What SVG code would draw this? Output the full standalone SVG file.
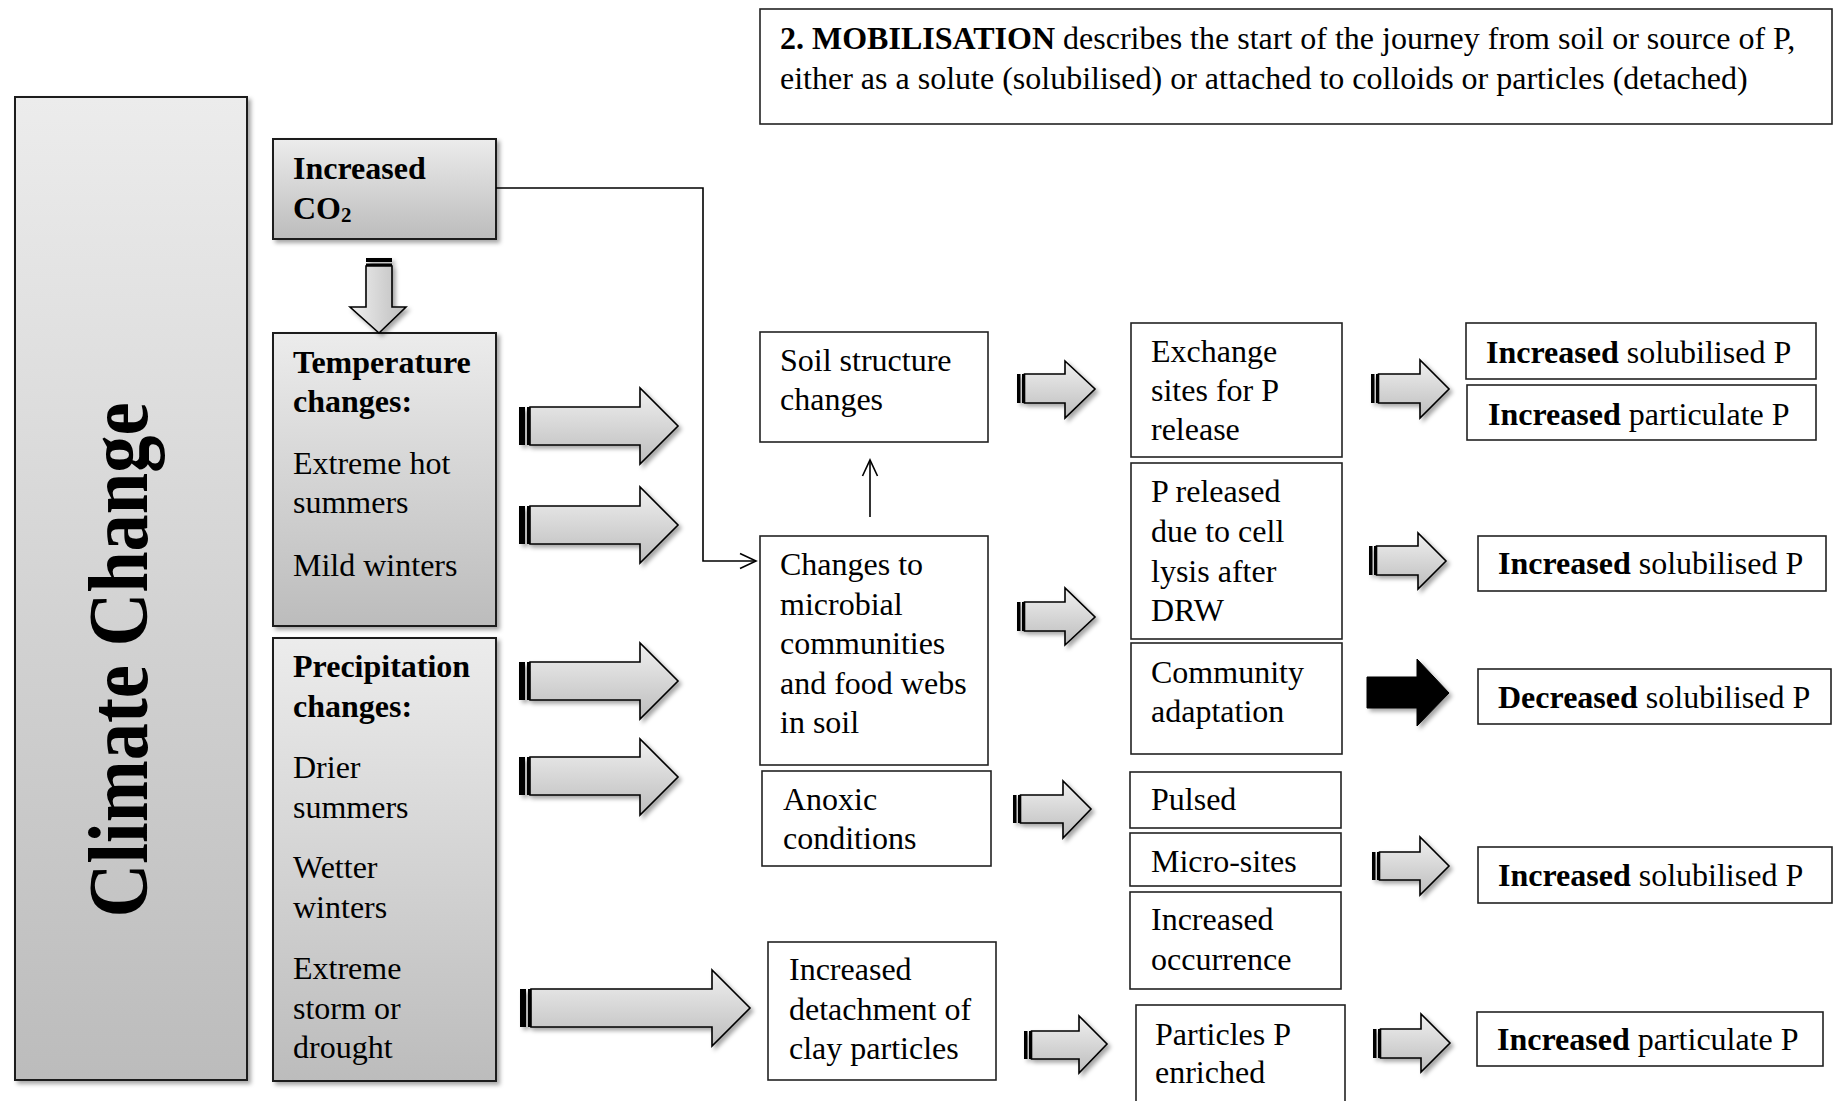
<svg xmlns="http://www.w3.org/2000/svg" width="1834" height="1101" viewBox="0 0 1834 1101">
<defs>
<style>
text{font-family:"Liberation Serif","Times New Roman",serif;font-size:32px;fill:#000}
.b{font-weight:bold}
.gbox{fill:url(#gb);stroke:#1a1a1a;stroke-width:2;filter:url(#sh)}
.box{fill:#fff;stroke:#222;stroke-width:1.6}
.arr{fill:url(#ga);stroke:#000;stroke-width:1.6;stroke-linejoin:miter}
.stp{fill:#000}
.blk{fill:#000;stroke:#000;stroke-width:1}
.ln{fill:none;stroke:#000;stroke-width:1.6}
</style>
<linearGradient id="gb" x1="0" y1="0" x2="0" y2="1">
<stop offset="0" stop-color="#ececec"/>
<stop offset="1" stop-color="#bcbcbc"/>
</linearGradient>
<linearGradient id="ga" x1="0" y1="0" x2="0" y2="1">
<stop offset="0" stop-color="#f0f0f0"/>
<stop offset="1" stop-color="#bdbdbd"/>
</linearGradient>
<linearGradient id="gv" x1="0" y1="0" x2="1" y2="0">
<stop offset="0" stop-color="#f0f0f0"/>
<stop offset="1" stop-color="#bdbdbd"/>
</linearGradient>
<filter id="sh" x="-10%" y="-10%" width="130%" height="130%">
<feDropShadow dx="3" dy="3" stdDeviation="2" flood-color="#000" flood-opacity="0.35"/>
</filter>
<marker id="oa" markerUnits="userSpaceOnUse" markerWidth="20" markerHeight="20" viewBox="-18 -9 20 18" refX="0" refY="0" orient="auto">
<path d="M-16,-7.5 L0,0 L-16,7.5" fill="none" stroke="#000" stroke-width="1.6"/>
</marker>
</defs>
<rect width="1834" height="1101" fill="#fff"/>

<g id="nodes">
<g id="mobilisation">
<rect class="box" x="760" y="9" width="1072" height="115"/>
<text x="780" y="49"><tspan class="b">2. MOBILISATION</tspan> describes the start of the journey from soil or source of P,</text>
<text x="780" y="89">either as a solute (solubilised) or attached to colloids or particles (detached)</text>
</g>
<g id="climate-change">
<rect class="gbox" x="15" y="97" width="232" height="983"/>
<text class="b" transform="translate(147,660) rotate(-90)" text-anchor="middle" style="font-size:84px" textLength="515" lengthAdjust="spacingAndGlyphs">Climate Change</text>
</g>
<g id="co2">
<rect class="gbox" x="273" y="139" width="223" height="100"/>
<text class="b" x="293" y="179">Increased</text>
<text class="b" x="293" y="219">CO<tspan style="font-size:21px" dy="3">2</tspan></text>
</g>
<g id="temperature">
<rect class="gbox" x="273" y="333" width="223" height="293"/>
<text class="b" x="293" y="373">Temperature</text>
<text class="b" x="293" y="412">changes:</text>
<text x="293" y="474">Extreme hot</text>
<text x="293" y="513">summers</text>
<text x="293" y="576">Mild winters</text>
</g>
<g id="precipitation">
<rect class="gbox" x="273" y="638" width="223" height="443"/>
<text class="b" x="293" y="677">Precipitation</text>
<text class="b" x="293" y="717">changes:</text>
<text x="293" y="778">Drier</text>
<text x="293" y="818">summers</text>
<text x="293" y="878">Wetter</text>
<text x="293" y="918">winters</text>
<text x="293" y="979">Extreme</text>
<text x="293" y="1019">storm or</text>
<text x="293" y="1058">drought</text>
</g>
<g id="soil-structure">
<rect class="box" x="760" y="332" width="228" height="110"/>
<text x="780" y="371">Soil structure</text>
<text x="780" y="410">changes</text>
</g>
<g id="microbial">
<rect class="box" x="760" y="536" width="228" height="229"/>
<text x="780" y="575">Changes to</text>
<text x="780" y="615">microbial</text>
<text x="780" y="654">communities</text>
<text x="780" y="694">and food webs</text>
<text x="780" y="733">in soil</text>
</g>
<g id="anoxic">
<rect class="box" x="762" y="771" width="229" height="95"/>
<text x="783" y="810">Anoxic</text>
<text x="783" y="849">conditions</text>
</g>
<g id="detachment">
<rect class="box" x="768" y="942" width="228" height="138"/>
<text x="789" y="980">Increased</text>
<text x="789" y="1020">detachment of</text>
<text x="789" y="1059">clay particles</text>
</g>
<g id="exchange">
<rect class="box" x="1131" y="323" width="211" height="134"/>
<text x="1151" y="362">Exchange</text>
<text x="1151" y="401">sites for P</text>
<text x="1151" y="440">release</text>
</g>
<g id="cell-lysis">
<rect class="box" x="1131" y="463" width="211" height="176"/>
<text x="1151" y="502">P released</text>
<text x="1151" y="542">due to cell</text>
<text x="1151" y="582">lysis after</text>
<text x="1151" y="621">DRW</text>
</g>
<g id="community">
<rect class="box" x="1131" y="643" width="211" height="111"/>
<text x="1151" y="683">Community</text>
<text x="1151" y="722">adaptation</text>
</g>
<g id="pulsed">
<rect class="box" x="1130" y="772" width="211" height="56"/>
<text x="1151" y="810">Pulsed</text>
</g>
<g id="micro-sites">
<rect class="box" x="1130" y="833" width="211" height="53"/>
<text x="1151" y="872">Micro-sites</text>
</g>
<g id="occurrence">
<rect class="box" x="1130" y="892" width="211" height="97"/>
<text x="1151" y="930">Increased</text>
<text x="1151" y="970">occurrence</text>
</g>
<g id="particles-enriched">
<rect class="box" x="1136" y="1005" width="209" height="110"/>
<text x="1155" y="1045">Particles P</text>
<text x="1155" y="1083">enriched</text>
</g>
<g id="out-sol-1">
<rect class="box" x="1466" y="323" width="350" height="56"/>
<text x="1486" y="363"><tspan class="b">Increased</tspan> solubilised P</text>
</g>
<g id="out-part-1">
<rect class="box" x="1467" y="385" width="349" height="55"/>
<text x="1488" y="425"><tspan class="b">Increased</tspan> particulate P</text>
</g>
<g id="out-sol-2">
<rect class="box" x="1478" y="536" width="348" height="55"/>
<text x="1498" y="574"><tspan class="b">Increased</tspan> solubilised P</text>
</g>
<g id="out-dec">
<rect class="box" x="1478" y="669" width="353" height="55"/>
<text x="1498" y="708"><tspan class="b">Decreased</tspan> solubilised P</text>
</g>
<g id="out-sol-3">
<rect class="box" x="1478" y="847" width="354" height="56"/>
<text x="1498" y="886"><tspan class="b">Increased</tspan> solubilised P</text>
</g>
<g id="out-part-2">
<rect class="box" x="1477" y="1012" width="346" height="54"/>
<text x="1497" y="1050"><tspan class="b">Increased</tspan> particulate P</text>
</g>
</g>

<g id="connectors">
<polyline class="ln" points="496,188 703,188 703,561 756,561" marker-end="url(#oa)"/>
<line class="ln" x1="870" y1="517" x2="870" y2="460" marker-end="url(#oa)"/>

<g id="arrow-down" filter="url(#sh)">
<rect class="stp" x="366" y="258" width="26" height="4"/>
<rect class="stp" x="366" y="263.5" width="26" height="2.5"/>
<path class="arr" style="fill:url(#gv)" d="M366,266 L392,266 L392,307 L406,307 L379,333 L350,307 L366,307 Z"/>
</g>

<g id="big-arrows" filter="url(#sh)">
<rect class="stp" x="519" y="407" width="6" height="38"/><rect class="stp" x="527" y="407" width="3" height="38"/>
<path class="arr" d="M530,407 L640,407 L640,388 L678,426 L640,464 L640,445 L530,445 Z"/>
<rect class="stp" x="519" y="506" width="6" height="38"/><rect class="stp" x="527" y="506" width="3" height="38"/>
<path class="arr" d="M530,506 L640,506 L640,487 L678,525 L640,563 L640,544 L530,544 Z"/>
<rect class="stp" x="519" y="662" width="6" height="38"/><rect class="stp" x="527" y="662" width="3" height="38"/>
<path class="arr" d="M530,662 L640,662 L640,643 L678,681 L640,719 L640,700 L530,700 Z"/>
<rect class="stp" x="519" y="757" width="6" height="38"/><rect class="stp" x="527" y="757" width="3" height="38"/>
<path class="arr" d="M530,757 L640,757 L640,739 L678,777 L640,815 L640,795 L530,795 Z"/>
<rect class="stp" x="520" y="989" width="6" height="38"/><rect class="stp" x="528" y="989" width="3" height="38"/>
<path class="arr" d="M531,989 L712,989 L712,970 L750,1008 L712,1046 L712,1027 L531,1027 Z"/>
</g>

<g id="small-arrows" filter="url(#sh)">
<rect class="stp" x="1017" y="374" width="3.5" height="29"/><rect class="stp" x="1022" y="374" width="2.5" height="29"/>
<path class="arr" d="M1024.5,374 L1065,374 L1065,361 L1095,389 L1065,418 L1065,403 L1024.5,403 Z"/>
<rect class="stp" x="1017" y="602" width="3.5" height="29"/><rect class="stp" x="1022" y="602" width="2.5" height="29"/>
<path class="arr" d="M1024.5,602 L1065,602 L1065,588 L1095,617 L1065,645 L1065,631 L1024.5,631 Z"/>
<rect class="stp" x="1013" y="795" width="3.5" height="28"/><rect class="stp" x="1018" y="795" width="2.5" height="28"/>
<path class="arr" d="M1020.5,795 L1063,795 L1063,781 L1091,809 L1063,838 L1063,823 L1020.5,823 Z"/>
<rect class="stp" x="1024" y="1031" width="3.5" height="28"/><rect class="stp" x="1029" y="1031" width="2.5" height="28"/>
<path class="arr" d="M1031.5,1031 L1079,1031 L1079,1016 L1107,1044 L1079,1073 L1079,1059 L1031.5,1059 Z"/>
<rect class="stp" x="1371" y="374" width="3.5" height="29"/><rect class="stp" x="1376" y="374" width="2.5" height="29"/>
<path class="arr" d="M1378.5,374 L1420,374 L1420,360 L1449,389 L1420,418 L1420,403 L1378.5,403 Z"/>
<rect class="stp" x="1369" y="546" width="3.5" height="29"/><rect class="stp" x="1374" y="546" width="2.5" height="29"/>
<path class="arr" d="M1376.5,546 L1418,546 L1418,533 L1446,561 L1418,589 L1418,575 L1376.5,575 Z"/>
<path class="blk" d="M1367,677 L1417,677 L1417,659 L1449,693 L1417,726 L1417,708 L1367,708 Z"/>
<rect class="stp" x="1372" y="852" width="3.5" height="28"/><rect class="stp" x="1377" y="852" width="2.5" height="28"/>
<path class="arr" d="M1379.5,852 L1420,852 L1420,837 L1449,866 L1420,895 L1420,880 L1379.5,880 Z"/>
<rect class="stp" x="1373" y="1029" width="3.5" height="29"/><rect class="stp" x="1378" y="1029" width="2.5" height="29"/>
<path class="arr" d="M1380.5,1029 L1421,1029 L1421,1014 L1450,1043 L1421,1072 L1421,1058 L1380.5,1058 Z"/>
</g>
</g>
</svg>
